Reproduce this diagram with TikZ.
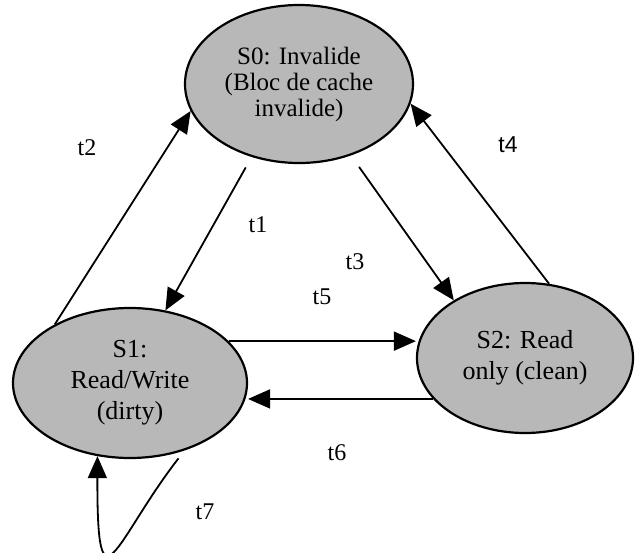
\documentclass[tikz,border=0pt]{standalone}
\usepackage{fontspec}
\setmainfont{Liberation Serif}
\newfontfamily\arialfont{Liberation Sans}
\usetikzlibrary{arrows.meta, shapes.geometric}

\begin{document}
\begin{tikzpicture}[x=1pt, y=-1pt, >={Triangle[length=22pt, width=19pt]},
    etat/.style={ellipse, draw, line width=2.2pt, fill=black!28, inner sep=0pt,
                 align=center, font=\fontsize{26}{31}\selectfont},
    lbl/.style={font=\fontsize{24}{24}\selectfont},
    fl/.style={->, line width=1.8pt}]
  \useasboundingbox (0,0) rectangle (635,552);

  % etats
  \node[etat, minimum width=228pt, minimum height=158pt,
        font=\fontsize{25}{26}\selectfont] (s0) at (299,84)
        {S0: Invalide\\(Bloc de cache\\invalide)};
  \node[etat, minimum width=234pt, minimum height=150pt] (s1) at (130,383)
        {S1:\\Read/Write\\(dirty)};
  \node[etat, minimum width=216pt, minimum height=150pt] (s2) at (525,358)
        {S2: Read\\only (clean)};

  % transitions
  \draw[fl] (s1.142) -- (s0.194);
  \draw[fl, shorten <=12pt] (s0.237) -- (s1.64);
  \draw[fl, shorten <=14pt] (s0.306) -- (s2.141);
  \draw[fl] (s2.72) -- (s0.350);
  \draw[fl] (s1.23) -- (s1.23 -| s2.west);
  \draw[fl] (s2.204) -- (s2.204 -| s1.east);
  \draw[fl, shorten <=10pt] (s1.309) .. controls (115,540) and (97,620) .. (s1.246);

  \node[lbl] (l2) at (87,148) {t2};
  \node[lbl] (l1) at (258,225) {t1};
  \node[lbl] (l3) at (355,262) {t3};
  \node[lbl, font=\arialfont\fontsize{23}{23}\selectfont] (l4) at (508,145) {t4};
  \node[lbl] (l5) at (322,297) {t5};
  \node[lbl] (l6) at (337,453) {t6};
  \node[lbl] (l7) at (205,512) {t7};
\end{tikzpicture}
\end{document}
